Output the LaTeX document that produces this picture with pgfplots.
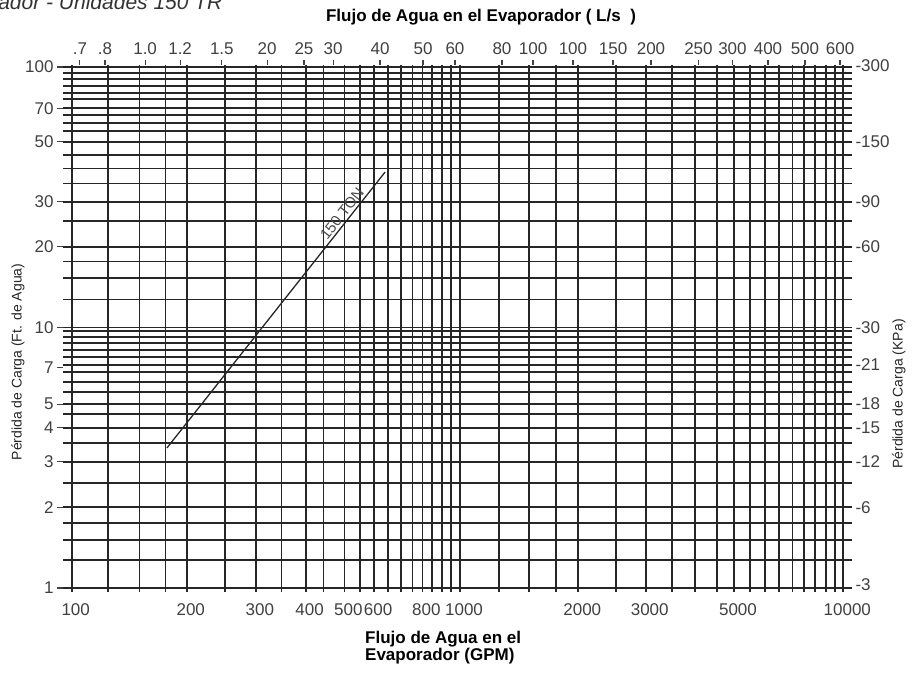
\documentclass[border=0pt]{standalone}
\usepackage{fontspec}
\setmainfont{Liberation Sans}
\usepackage{pgfplots}
\pgfplotsset{compat=1.18}

% shared geometry of the log-log chart (1 bp = 1 px of the scan)
\pgfplotsset{
  chartbase/.style={
    at={(63bp,85bp)}, anchor=south west,
    scale only axis, width=789bp, height=527bp,
    xmin=94.94, xmax=10534, ymin=0.9653, ymax=101.78,
    axis line style={draw=none},
    /pgf/number format/assume math mode=true,
    ticklabel style={font=\fontsize{17bp}{20bp}\selectfont, text=black!75},
  },
}

\begin{document}
\begin{tikzpicture}[x=1bp,y=1bp]
\path[use as bounding box] (0,0) rectangle (914,677);

% grid and the 150 TON curve
\begin{loglogaxis}[chartbase,
  xtick={100,124,150,175,198.7,250,300,350,404,449,509,559,608,661,714,765,811,860,913,962,1015,
         1281,1532,1800,2056,2570,3075,3604,4126,4698,5207,5730,6266,6810,7390,7907,8446,9020,9520,10000},
  ytick={1,1.28,1.53,1.78,2.04,2.53,3.05,3.6,4.12,4.66,5.08,5.67,6.19,6.75,7.18,7.7,8.2,8.7,9.2,9.7,10,
         12.8,15.5,17.9,20.4,25.6,30.4,35.7,40.8,45.9,51.6,56.9,61.1,65.4,69.4,75.2,79.7,84.5,89.7,95,100},
  xticklabels={}, yticklabels={},
  tick style={draw=none},
  grid=major,
  major grid style={line width=1.7bp, black!85},
]
\addplot[line width=1.3bp, black!85] coordinates {(176.6,3.45) (649,39.5)};
\node[rotate=51.7, anchor=south, inner sep=2bp, text=black!70, font=\fontsize{15bp}{15bp}\selectfont]
  at (axis cs:520,26.2) {150 TON};
\end{loglogaxis}

% left and bottom labels
\begin{loglogaxis}[chartbase,
  ytick={1,2.04,3.05,4.12,5.08,7,10,20.4,30.4,51.6,69.4,100},
  yticklabels={1,2,3,4,5,7,10,20,30,50,70,100},
  xtick={100,198.7,300,404,509,608,811,1015,2056,3075,5207,10000},
  xticklabels={100,200,300,400,500,600,800,1000,2000,3000,5000,10000},
  xtick pos=left, ytick pos=left,
  tick align=outside,
  major tick length=6bp,
  y tick style={line width=1.2bp, black!75},
  x tick style={draw=none},
  xticklabel style={xshift=4bp, yshift=-2bp},
]
\addplot[draw=none] coordinates {(100,1)};
\end{loglogaxis}

% top (L/s) and right (kPa) labels
\begin{loglogaxis}[chartbase,
  xtick={105,122,155,191,245,321,400,476,630,814,985,1304,1570,1992,2530,3174,4213,5160,6380,7955,9806},
  xticklabels={.7,.8,1.0,1.2,1.5,20,25,30,40,50,60,80,100,100,150,200,250,300,400,500,600},
  ytick={1.03,2.04,3.05,4.12,5.08,7.18,10,20.4,30.4,51.6,101},
  yticklabels={-3,-6,-12,-15,-18,-21,-30,-60,-90,-150,-300},
  xtick pos=right, xticklabel pos=right,
  ytick pos=right, yticklabel pos=right,
  tick align=outside,
  major tick length=5bp,
  x tick style={line width=1.2bp, black!75},
  y tick style={draw=none},
  yticklabel style={xshift=-5bp},
  xticklabel style={yshift=2bp},
]
\addplot[draw=none] coordinates {(100,1)};
\end{loglogaxis}

% titles
\node[anchor=base east, font=\itshape\fontsize{21bp}{21bp}\selectfont, text=black!80]
  at (226,667) {Pérdida de Carga del Evaporador - Unidades 150 TR};
\node[font=\bfseries\fontsize{17bp}{17bp}\selectfont] at (481,660)
  {Flujo de Agua en el Evaporador ( L/s\ \ )};
\node[anchor=north west, align=left, inner sep=0pt, font=\bfseries\fontsize{17bp}{17bp}\selectfont]
  at (365,46) {Flujo de Agua en el\\Evaporador (GPM)};
\node[rotate=90, font=\fontsize{14bp}{14bp}\selectfont, text=black!85] at (18,315)
  {Pérdida de Carga (Ft. de Agua)};
\node[rotate=90, font=\fontsize{14bp}{14bp}\selectfont, text=black!85] at (899,283)
  {Pérdida de Carga (KPa)};
\end{tikzpicture}
\end{document}
